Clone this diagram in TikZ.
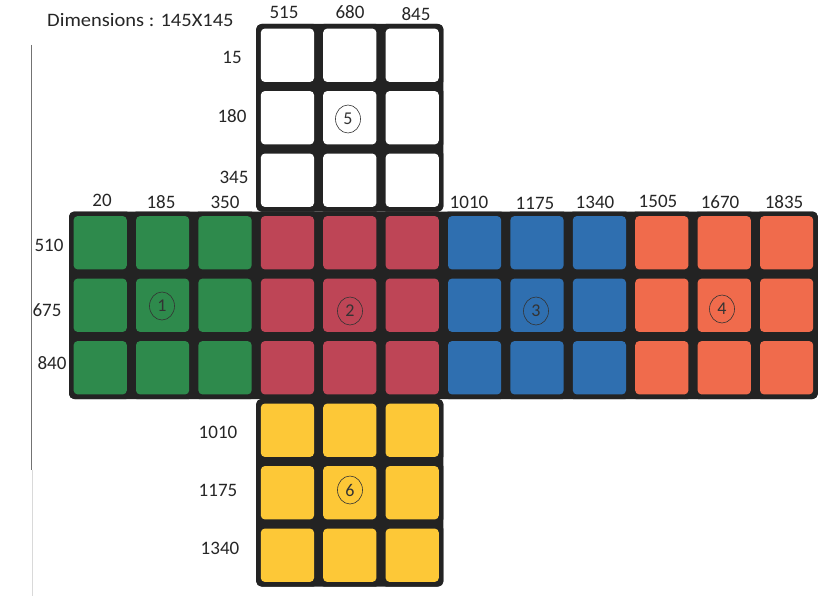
\documentclass[tikz,border=0pt]{standalone}
\usepackage{fontspec}
\setmainfont{Carlito}
\usetikzlibrary{shapes.geometric}
\definecolor{cubeblack}{HTML}{232323}
\definecolor{cgreen}{HTML}{2E8A4C}
\definecolor{cred}{HTML}{BE4556}
\definecolor{cblue}{HTML}{2F6FB0}
\definecolor{corange}{HTML}{F06B4C}
\definecolor{cyellow}{HTML}{FDC837}
\definecolor{cwhite}{HTML}{FFFFFF}
\newcommand\mycubie[3]{%
  \fill[cubeblack, rounded corners=5pt] ({69+62.4*#1},{-24-62.5*#2}) rectangle ++(62.4,-62.5);
  \fill[#3, rounded corners=4pt] ({69+62.4*#1+4.6},{-24-62.5*#2-4.6}) rectangle ++(53.2,-53.3);
}
\tikzset{
  lbl/.style={font=\fontsize{19}{19}\selectfont, text=black!85, inner sep=0pt},
  facenum/.style={draw=black!80, line width=0.6pt, ellipse, minimum width=25pt, minimum height=28pt, inner sep=0pt, font=\fontsize{18}{18}\selectfont, text=black!80}
}
\begin{document}
\begin{tikzpicture}[x=1pt,y=1pt]
\useasboundingbox (0,0) rectangle (824,-596);
\fill[white] (0,0) rectangle (824,-596);
% scan edge
\draw[black!55, line width=0.8pt] (31,-45) -- (31,-470);
\draw[black!15, line width=0.6pt] (32,-470) -- (32,-596);
% face backgrounds
\fill[cubeblack, rounded corners=6pt] (256.2,-24) rectangle (443.4,-211.5);
\fill[cubeblack, rounded corners=6pt] (69,-211.5) rectangle (817.8,-399);
\fill[cubeblack, rounded corners=6pt] (256.2,-399) rectangle (443.4,-586.5);
% top face
\foreach \c in {3,4,5}{\foreach \r in {0,1,2}{\mycubie{\c}{\r}{cwhite}}}
% middle row
\foreach \r in {3,4,5}{
  \foreach \c in {0,1,2}{\mycubie{\c}{\r}{cgreen}}
  \foreach \c in {3,4,5}{\mycubie{\c}{\r}{cred}}
  \foreach \c in {6,7,8}{\mycubie{\c}{\r}{cblue}}
  \foreach \c in {9,10,11}{\mycubie{\c}{\r}{corange}}
}
% bottom face
\foreach \c in {3,4,5}{\foreach \r in {6,7,8}{\mycubie{\c}{\r}{cyellow}}}
% face numbers
\node[facenum] (f5) at (348,-119) {5};
\node[facenum] (f1) at (162,-306) {1};
\node[facenum] (f2) at (350,-311) {2};
\node[facenum] (f3) at (536,-311) {3};
\node[facenum] (f4) at (722,-309) {4};
\node[facenum] (f6) at (350,-490) {6};
% labels
\node[lbl, anchor=west, xscale=1.08] (dim) at (47,-20) {Dimensions : 145X145};
\node[lbl] (t515) at (284,-12) {515};
\node[lbl] (t680) at (350,-12) {680};
\node[lbl] (t845) at (416,-14) {845};
\node[lbl] (l15) at (232,-57) {15};
\node[lbl] (l180) at (232,-116) {180};
\node[lbl] (l345) at (234,-177) {345};
\node[lbl] (m20) at (102,-200) {20};
\node[lbl] (m185) at (161,-202) {185};
\node[lbl] (m350) at (225,-202) {350};
\node[lbl] (m1010) at (469,-202) {1010};
\node[lbl] (m1175) at (535,-203) {1175};
\node[lbl] (m1340) at (595,-202) {1340};
\node[lbl] (m1505) at (658,-201) {1505};
\node[lbl] (m1670) at (720,-202) {1670};
\node[lbl] (m1835) at (784,-202) {1835};
\node[lbl] (r510) at (49,-245) {510};
\node[lbl] (r675) at (47,-310) {675};
\node[lbl] (r840) at (52,-363) {840};
\node[lbl] (b1010) at (218,-432) {1010};
\node[lbl] (b1175) at (218,-490) {1175};
\node[lbl] (b1340) at (220,-548) {1340};
\end{tikzpicture}
\end{document}
